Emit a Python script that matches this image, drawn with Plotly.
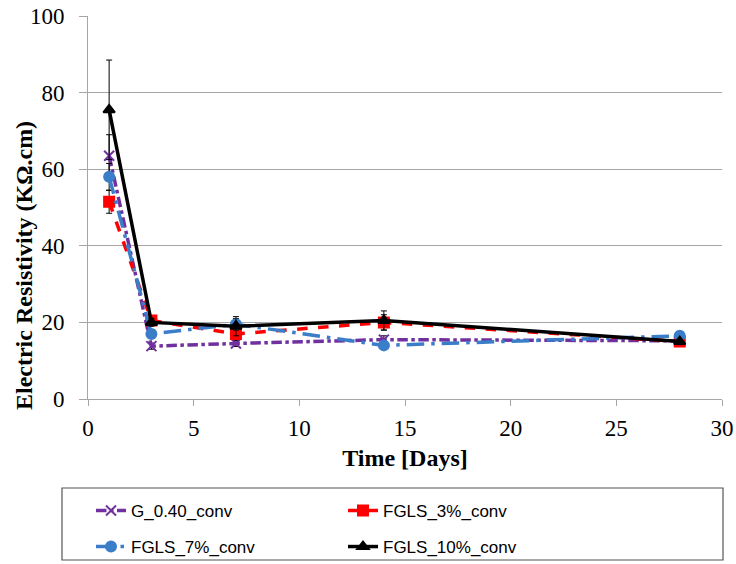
import plotly.graph_objects as go

days = [1, 3, 7, 14, 28]
g040 = [63.5, 13.8, 14.5, 15.5, 15.2]
g040_err = [5.5, 0.8, 0.8, 1.0, 0.5]
fgls3 = [51.5, 20.5, 17.0, 20.0, 15.0]
fgls3_err = [3.0, 1.0, 1.5, 2.0, 0.5]
fgls7 = [58.0, 17.0, 19.5, 14.0, 16.5]
fgls7_err = [3.5, 1.0, 1.5, 1.0, 0.5]
fgls10 = [75.5, 20.0, 19.0, 20.5, 15.0]
fgls10_err = [13.0, 1.0, 2.5, 2.5, 0.5]

series = [
    ("G_0.40_conv", g040, g040_err, "#7030A0", "dashdot", "x-thin-open", "legend"),
    ("FGLS_3%_conv", fgls3, fgls3_err, "#FF0000", "dash", "square", "legend"),
    ("FGLS_7%_conv", fgls7, fgls7_err, "#3A7DC9", "longdashdot", "circle", "legend2"),
    ("FGLS_10%_conv", fgls10, fgls10_err, "#000000", "solid", "triangle-up", "legend2"),
]

fig = go.Figure()
for name, vals, err, col, dash, sym, leg in series:
    fig.add_trace(go.Scatter(
        x=days, y=vals, name=name, mode="lines+markers",
        line=dict(color=col, width=3.5, dash=dash),
        marker=dict(symbol=sym, size=10, color=col, line=dict(color=col, width=2)),
        error_y=dict(type="data", array=err, color="#000000", thickness=1, width=3),
        legend=leg,
    ))

tick_font = dict(family="Liberation Serif", size=23, color="#000")
title_font = dict(family="Liberation Serif", size=24, color="#000")
leg_font = dict(family="Liberation Sans", size=17, color="#000")

fig.update_layout(
    width=736, height=564,
    margin=dict(l=88, r=14, t=16, b=165, autoexpand=False),
    plot_bgcolor="white", paper_bgcolor="white",
    xaxis=dict(range=[0, 30], tick0=0, dtick=5, showgrid=False,
               showline=True, linecolor="#A6A6A6", linewidth=1,
               ticks="outside", ticklen=6, tickcolor="#A6A6A6",
               tickfont=tick_font, ticklabelstandoff=2, ticklabeloverflow="allow",
               title=dict(text="<b>Time [Days]</b>", font=title_font, standoff=9)),
    yaxis=dict(range=[0, 100], tick0=0, dtick=20, showgrid=True, gridcolor="#A6A6A6",
               showline=True, linecolor="#A6A6A6", linewidth=1,
               ticks="outside", ticklen=8, tickcolor="#A6A6A6",
               tickfont=tick_font, zeroline=False, ticklabelstandoff=10,
               ticklabeloverflow="allow"),
    annotations=[dict(text="<b>Electric Resistivity (KΩ.cm)</b>", font=title_font,
                      textangle=-90, xref="paper", yref="paper",
                      x=(24 - 88) / 634, y=(399 - 266) / 383,
                      xanchor="center", yanchor="middle", showarrow=False)],
    legend=dict(orientation="h", x=(91 - 88) / 634, y=(399 - 511) / 383, xanchor="left", yanchor="middle",
                entrywidth=207, entrywidthmode="pixels",
                font=leg_font, bgcolor="rgba(0,0,0,0)", itemwidth=30),
    legend2=dict(orientation="h", x=(91 - 88) / 634, y=(399 - 547) / 383, xanchor="left", yanchor="middle",
                 entrywidth=207, entrywidthmode="pixels",
                 font=leg_font, bgcolor="rgba(0,0,0,0)", itemwidth=30),
    shapes=[dict(type="rect", xref="paper", yref="paper",
                 x0=(62 - 88) / 634, x1=(723 - 88) / 634,
                 y0=(399 - 560) / 383, y1=(399 - 488) / 383,
                 line=dict(color="#555", width=1.2), fillcolor="rgba(0,0,0,0)")],
)
fig.write_html("out.html", config={"displayModeBar": False},
               post_script="document.body.style.margin='0';")
